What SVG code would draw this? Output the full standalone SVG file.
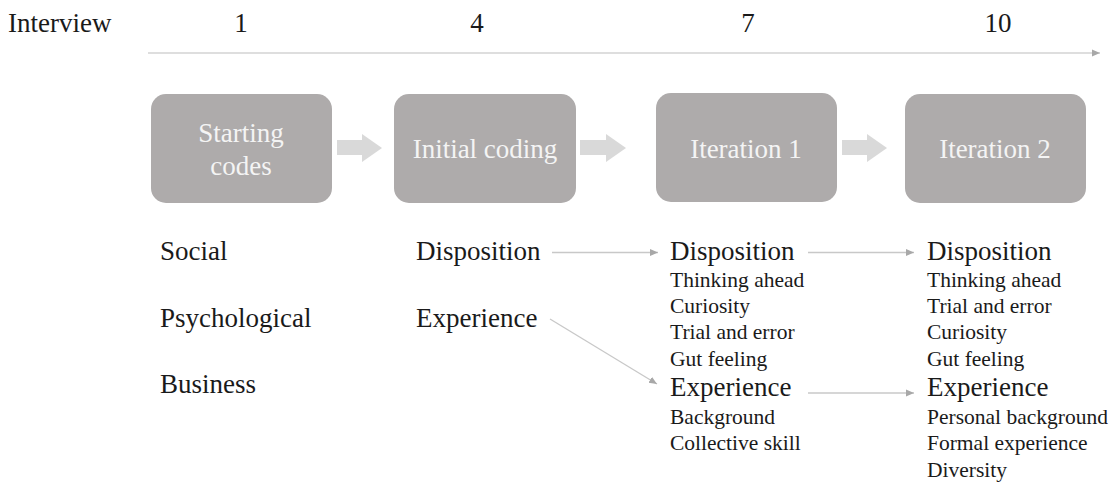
<svg xmlns="http://www.w3.org/2000/svg" width="1110" height="482" viewBox="0 0 1110 482">
<defs>
<marker id="ah" markerUnits="userSpaceOnUse" markerWidth="9" markerHeight="8" refX="8" refY="4" orient="auto">
<path d="M0,0.5 L8,4 L0,7.5 z" fill="#a8a8a8"/>
</marker>
</defs>
<g id="timeline">
<text x="8" y="32" font-family="Liberation Serif" font-size="27" fill="#1a1a1a">Interview</text>
<text x="241" y="32" font-family="Liberation Serif" font-size="27" fill="#1a1a1a" text-anchor="middle">1</text>
<text x="477" y="32" font-family="Liberation Serif" font-size="27" fill="#1a1a1a" text-anchor="middle">4</text>
<text x="748" y="32" font-family="Liberation Serif" font-size="27" fill="#1a1a1a" text-anchor="middle">7</text>
<text x="998" y="32" font-family="Liberation Serif" font-size="27" fill="#1a1a1a" text-anchor="middle">10</text>
<line x1="148" y1="53" x2="1100" y2="53" stroke="#d3d3d3" stroke-width="1.5" marker-end="url(#ah)"/>
</g>
<g id="starting-codes">
<rect x="151" y="94" width="181" height="109" rx="15" fill="#aeabab"/>
<text x="241" y="142" font-family="Liberation Serif" font-size="27" fill="#f4f4f4" text-anchor="middle">Starting</text>
<text x="241" y="175" font-family="Liberation Serif" font-size="27" fill="#f4f4f4" text-anchor="middle">codes</text>
</g>
<g id="initial-coding">
<rect x="394" y="94" width="182" height="109" rx="15" fill="#aeabab"/>
<text x="485" y="158" font-family="Liberation Serif" font-size="27" fill="#f4f4f4" text-anchor="middle">Initial coding</text>
</g>
<g id="iteration-1">
<rect x="656" y="93" width="181" height="109" rx="15" fill="#aeabab"/>
<text x="746" y="158" font-family="Liberation Serif" font-size="27" fill="#f4f4f4" text-anchor="middle">Iteration 1</text>
</g>
<g id="iteration-2">
<rect x="905" y="94" width="181" height="109" rx="15" fill="#aeabab"/>
<text x="995" y="158" font-family="Liberation Serif" font-size="27" fill="#f4f4f4" text-anchor="middle">Iteration 2</text>
</g>
<g id="block-arrows" fill="#d9d9d9">
<path d="M337,140 H362 V134 L382,148 L362,162 V155 H337 z"/>
<path d="M580,140 H606 V134 L626,148 L606,162 V155 H580 z"/>
<path d="M842,140 H867 V134 L887,148 L867,162 V155 H842 z"/>
</g>
<g id="starting-list">
<text x="160" y="260" font-family="Liberation Serif" font-size="27" fill="#1a1a1a">Social</text>
<text x="160" y="327" font-family="Liberation Serif" font-size="27" fill="#1a1a1a">Psychological</text>
<text x="160" y="393" font-family="Liberation Serif" font-size="27" fill="#1a1a1a">Business</text>
</g>
<g id="initial-list">
<text x="416" y="260" font-family="Liberation Serif" font-size="27" fill="#1a1a1a">Disposition</text>
<text x="416" y="327" font-family="Liberation Serif" font-size="27" fill="#1a1a1a">Experience</text>
</g>
<g id="iteration1-list">
<text x="670" y="260" font-family="Liberation Serif" font-size="27" fill="#1a1a1a">Disposition</text>
<text x="670" y="287" font-family="Liberation Serif" font-size="21.5" fill="#1a1a1a">Thinking ahead</text>
<text x="670" y="313" font-family="Liberation Serif" font-size="21.5" fill="#1a1a1a">Curiosity</text>
<text x="670" y="339" font-family="Liberation Serif" font-size="21.5" fill="#1a1a1a">Trial and error</text>
<text x="670" y="366" font-family="Liberation Serif" font-size="21.5" fill="#1a1a1a">Gut feeling</text>
<text x="670" y="396" font-family="Liberation Serif" font-size="27" fill="#1a1a1a">Experience</text>
<text x="670" y="424" font-family="Liberation Serif" font-size="21.5" fill="#1a1a1a">Background</text>
<text x="670" y="450" font-family="Liberation Serif" font-size="21.5" fill="#1a1a1a">Collective skill</text>
</g>
<g id="iteration2-list">
<text x="927" y="260" font-family="Liberation Serif" font-size="27" fill="#1a1a1a">Disposition</text>
<text x="927" y="287" font-family="Liberation Serif" font-size="21.5" fill="#1a1a1a">Thinking ahead</text>
<text x="927" y="313" font-family="Liberation Serif" font-size="21.5" fill="#1a1a1a">Trial and error</text>
<text x="927" y="339" font-family="Liberation Serif" font-size="21.5" fill="#1a1a1a">Curiosity</text>
<text x="927" y="366" font-family="Liberation Serif" font-size="21.5" fill="#1a1a1a">Gut feeling</text>
<text x="927" y="396" font-family="Liberation Serif" font-size="27" fill="#1a1a1a">Experience</text>
<text x="927" y="424" font-family="Liberation Serif" font-size="21.5" fill="#1a1a1a">Personal background</text>
<text x="927" y="450" font-family="Liberation Serif" font-size="21.5" fill="#1a1a1a">Formal experience</text>
<text x="927" y="477" font-family="Liberation Serif" font-size="21.5" fill="#1a1a1a">Diversity</text>
</g>
<g id="connectors" stroke="#c8c8c8" stroke-width="1.3" fill="none">
<line x1="552" y1="252.5" x2="658" y2="252.5" marker-end="url(#ah)"/>
<line x1="550" y1="319" x2="657" y2="384" marker-end="url(#ah)"/>
<line x1="808" y1="252.5" x2="914" y2="252.5" marker-end="url(#ah)"/>
<line x1="808" y1="393" x2="914" y2="393" marker-end="url(#ah)"/>
</g>
</svg>
